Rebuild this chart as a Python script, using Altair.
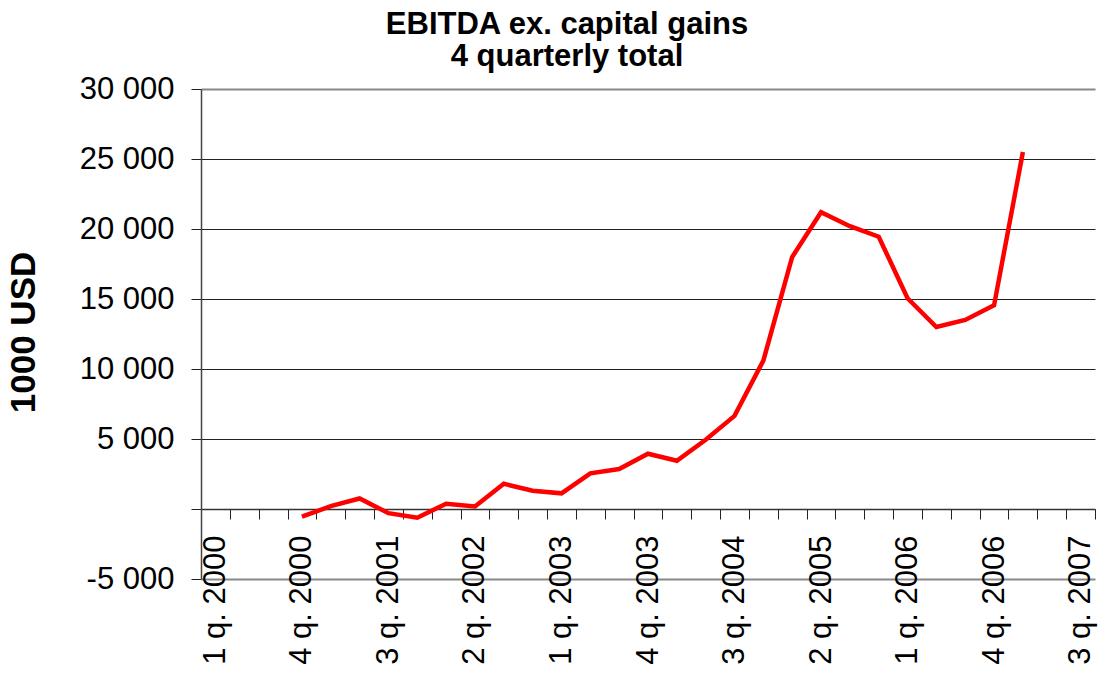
import altair as alt
import pandas as pd

quarters = [
    "1 q. 2000", "2 q. 2000", "3 q. 2000", "4 q. 2000",
    "1 q. 2001", "2 q. 2001", "3 q. 2001", "4 q. 2001",
    "1 q. 2002", "2 q. 2002", "3 q. 2002", "4 q. 2002",
    "1 q. 2003", "2 q. 2003", "3 q. 2003", "4 q. 2003",
    "1 q. 2004", "2 q. 2004", "3 q. 2004", "4 q. 2004",
    "1 q. 2005", "2 q. 2005", "3 q. 2005", "4 q. 2005",
    "1 q. 2006", "2 q. 2006", "3 q. 2006", "4 q. 2006",
    "1 q. 2007", "2 q. 2007", "3 q. 2007",
]
shown_labels = [
    "1 q. 2000", "4 q. 2000", "3 q. 2001", "2 q. 2002", "1 q. 2003", "4 q. 2003",
    "3 q. 2004", "2 q. 2005", "1 q. 2006", "4 q. 2006", "3 q. 2007",
]
data_quarters = quarters[3:29]
ebitda = [
    -550, 200, 750, -300, -620, 380, 180, 1800, 1300, 1120,
    2550, 2850, 3950, 3450, 4950, 6650, 10600, 18000, 21200, 20200,
    19450, 15050, 13000, 13500, 14550, 25500,
]
y_ticks = [-5000, 0, 5000, 10000, 15000, 20000, 25000, 30000]

df = pd.DataFrame({"quarter": data_quarters, "value": ebitda})

FONT = "Liberation Sans"
label_list = "[" + ",".join("'" + s + "'" for s in shown_labels) + "]"

chart = (
    alt.Chart(df)
    .mark_line(color="#FF0000", strokeWidth=4.5)
    .encode(
        x=alt.X(
            "quarter:N",
            scale=alt.Scale(type="band", domain=quarters, paddingInner=0, paddingOuter=0),
            bandPosition=0.5,
            axis=alt.Axis(
                title=None,
                orient="bottom",
                offset=-70,
                labelAngle=-90,
                labelAlign="right",
                labelBaseline="middle",
                labelPadding=16,
                labelFont=FONT,
                labelFontSize=31,
                labelColor="black",
                labelOverlap=False,
                labelExpr="indexof(" + label_list + ", datum.value) >= 0 ? datum.value : ''",
                tickBand="extent",
                tickSize=10,
                tickColor="#222",
                domainColor="#333",
                domainWidth=1.5,
                grid=False,
            ),
        ),
        y=alt.Y(
            "value:Q",
            scale=alt.Scale(domain=[-5000, 30000], nice=False, zero=False),
            axis=alt.Axis(
                values=y_ticks,
                title="1000 USD",
                titleFont=FONT,
                titleFontSize=35,
                titleFontWeight="bold",
                titleColor="black",
                titleAngle=-90,
                titleX=-178,
                titleY=243,
                titleAlign="center",
                titleBaseline="middle",
                labelFont=FONT,
                labelFontSize=31,
                labelColor="black",
                labelPadding=17,
                labelExpr="datum.value == 0 ? '' : replace(replace(format(datum.value, ','), ',', ' '), '\u2212', '-')",
                tickSize=10,
                tickColor="#222",
                domainColor="#444",
                domainWidth=1.5,
                grid=True,
                gridColor={"condition": {"test": "datum.value === 30000 || datum.value === -5000", "value": "#888888"}, "value": "#222222"},
                gridWidth={"condition": {"test": "datum.value === 30000 || datum.value === -5000", "value": 2}, "value": 1},
            ),
        ),
    )
    .properties(
        width=894,
        height=490,
        autosize="none",
        padding={"left": 193, "top": 81, "right": 6, "bottom": 90},
        title=alt.TitleParams(
            ["EBITDA ex. capital gains", "4 quarterly total"],
            font=FONT,
            fontSize=31,
            fontWeight="bold",
            color="black",
            anchor="middle",
            dx=-81,
            offset=0,
            lineHeight=32,
        ),
    )
    .configure_view(stroke=None)
)

chart.save("out.html", embed_options={"renderer": "svg", "actions": False})
